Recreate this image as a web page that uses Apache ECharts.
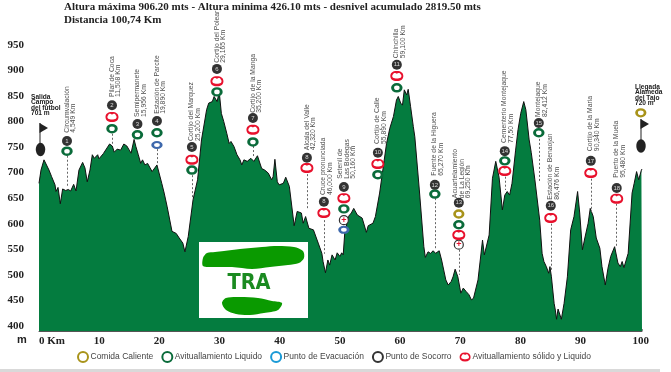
<!DOCTYPE html>
<html><head><meta charset="utf-8">
<style>html,body{margin:0;padding:0;background:#fff}#c{width:671px;height:372px}</style>
<script src="https://cdn.jsdelivr.net/npm/echarts@6/dist/echarts.min.js"></script>
</head><body><div id="c"></div>
<script>
const profileKm=[0,.33,.83,1.16,1.66,2.1,2.66,2.82,3.16,3.54,3.93,4.43,4.87,5.26,5.76,6.15,6.64,7.25,7.64,8.02,8.47,8.86,9.19,9.75,9.97,10.68,11.73,12.18,12.5,13,13.56,14.1,14.6,15,15.3,15.8,16.1,16.5,16.9,17.2,17.6,18.05,18.8,19.6,19.9,20.4,20.8,21.3,22.1,22.8,23.3,23.9,24.25,24.8,25.6,26.35,27,27.85,28.2,28.8,29.1,29.6,29.95,30.3,30.7,31.2,31.6,31.9,32.4,32.9,33.4,33.7,34.05,34.6,35.2,35.7,36.3,37,37.5,38.1,38.65,38.9,39.2,39.6,39.9,40.6,41,41.6,42.4,42.9,43.6,43.9,44.3,44.85,45.6,46.4,47,47.2,47.6,48,48.3,48.7,49.2,49.55,50,50.3,50.55,50.8,51.4,51.9,52.3,52.9,53.7,54.4,54.7,55.5,55.9,56.6,57.75,58.3,58.9,59.4,59.7,60.1,60.4,60.7,61.1,61.35,61.75,62.2,62.45,63.2,63.95,64.2,64.65,65.05,65.5,65.9,66.5,66.9,67.6,68,68.5,68.8,69.15,69.6,70.1,70.5,71,71.45,71.85,72.2,72.95,73.7,74,74.8,75.35,75.9,76.45,77,77.4,77.8,78.2,78.6,79.2,79.6,80.05,80.55,80.9,81.45,81.8,82.4,83.2,83.6,83.9,84.3,84.7,84.9,85.15,85.6,85.8,86,86.25,86.5,86.8,87.25,87.8,88.35,88.9,89.5,89.85,90.3,90.7,91.25,91.6,92.1,92.6,93.2,93.55,94.1,94.55,95,95.65,96.2,96.6,96.9,97.2,97.9,98.55,98.9,99.3,99.65,100.1,100.2];
const profileAlt=[679,705,725,725,705,692,676,663,671,639,668,665,667,664,677,664,705,720,709,682,705,735,728,735,727,737,756,752,740,746,744,756,752,744,738,765,751,735,718,725,715,718,702,715,712,679,660,633,585,581,572,562,545,575,647,686,764,823,836,839,849,839,858,816,800,777,757,761,751,735,725,715,725,722,728,722,733,708,705,699,686,692,726,682,676,679,691,673,596,624,621,601,614,591,588,562,542,526,504,529,519,539,529,543,536,543,539,581,614,621,630,617,611,583,596,601,614,660,757,787,810,842,849,836,832,862,852,863,829,790,770,666,555,534,545,542,547,542,547,529,490,480,487,496,511,496,464,474,467,461,451,454,490,568,539,578,689,722,691,627,656,663,656,679,744,784,816,839,823,764,739,686,607,542,526,516,503,516,496,444,431,413,433,431,413,444,496,588,614,663,621,549,572,601,630,614,572,552,516,480,513,536,555,523,516,526,514,542,660,679,702,686,705,707];

const stationKm=[4.65,12.13,16.36,19.6,25.41,29.57,35.55,44.52,47.34,50.66,56.31,59.46,65.78,69.76,77.4,83.05,85.04,91.69,96.0];
const stationNum=["1","2","3","4","5","6","7","8","8","9","10","11","12","13","14","15","16","17","18"];
const stationAlt=[762,832,795,801,750,903,807,729,643,672,739,911,676,641,742,797,635,723,670];
const stationText=["Circumvalación\n4,549 Km","Pilar de Coca\n11,508 Km","Semipermanete\n15,956 Km","Estación de Parcite\n19,890 Km","Cortijo del Marquez\n25,200 Km","Cortijo del Polear\n29,165 Km","Cortijo de la Manga\n35,200 Km","Alcala del Valle\n42,320 Km","Cruce pronunciada\n46,000 Km","Setenil de\nLas Bodegas\n50,160 Km","Cortijo de Calle\n55,890 Km","Chinchilla\n59,100 Km","Fuente de la Higuera\n65,270 Km","Acuartelamiento\nde La Legión\n69,250 Km","Cementerio Montejaque\n77,50 Km","Montejaque\n82,412 Km","Estación de Benaojan\n86,476 Km","Cortijo de la Maria\n90,340 Km","Puerto de la Muela\n95,480 Km"];
const stationTextAlt=[778,848,809,815,762,915,817,744,656,688,756,924,694,650,758,809,647,742,690];

const solidKm=[12.13,25.41,29.57,35.55,44.52,47.34,50.66,56.31,59.46,69.76,77.4,85.04,91.69,96.0];
const solidAlt=[809,725,879,784,709,621,650,717,889,578,703,611,699,649];
const liquidKm=[4.65,12.13,16.36,19.6,25.41,29.57,35.55,50.66,56.31,59.46,65.78,69.76,77.4,83.05];
const liquidAlt=[742,786,774,778,705,858,760,629,696,866,658,598,723,778];
const evacKm=[19.6,50.66];
const evacAlt=[754,588];
const aidKm=[50.66,69.76];
const aidAlt=[607,559];
const foodKm=[69.76,100.0];
const foodAlt=[619,817];

const dashKm=[4.65,12.13,19.6,25.41,35.55,44.52,47.34,65.78,69.76,77.4,83.05,85.04,91.69,96.0];
const dashTop=[733,776,746,695,752,697,607,650,549,692,766,600,688,639];
const dashEnd=[674,756,715,650,729,627,541,549,500,666,680,510,623,553];

const yTicks=[400,450,500,550,600,650,700,750,800,850,900,950];
const legendNames=["Comida Caliente","Avituallamiento Liquido","Punto de Evacuación","Punto de Socorro","Avituallamiento sólido y Liquido"];
const titleText="Altura máxima 906.20 mts - Altura minima 426.10 mts - desnivel acumulado 2819.50 mts\nDistancia 100,74 Km";

const zip=(a,b)=>a.map((v,i)=>[v,b[i]]);
const red='#e8112d',green='#0a6b3a',blue='#3d68ac',yellow='#a8931a';
const redPath='path://M12 0C20 0 24 4 24 10C24 16 20 20 12 20C4 20 0 16 0 10C0 4 4 0 12 0ZM12 5.5C10 3 6 3.5 5 6.5C3 8.5 3 11.5 5 13.5C8 15.5 16 15.5 19 13.5C21 11.5 21 8.5 19 6.5C18 3.5 14 3 12 5.5Z';
const sans='"Liberation Sans",Arial,sans-serif',serif='"Liberation Serif",serif';
const ring=(name,km,alt,size,col,bw,extra)=>Object.assign({type:'scatter',name,data:zip(km,alt),symbol:'circle',symbolSize:size,z:6,
  itemStyle:{color:'#fff',borderColor:col,borderWidth:bw,opacity:1}},extra||{});
const txt=(x,y,t,f,c,w,lh)=>({type:'text',x,y,z:30,style:{text:t,font:(w||'bold')+' '+f+'px '+sans,fill:c||'#222',lineHeight:lh}});

const chart=echarts.init(document.getElementById('c'),null,{renderer:'canvas'});
chart.setOption({
 animation:false,backgroundColor:'#fff',
 title:{text:titleText,left:64,top:1,padding:0,textStyle:{fontFamily:serif,fontWeight:'bold',fontSize:11,lineHeight:13,color:'#222'}},
 grid:{left:39,right:29,top:4,bottom:41},
 xAxis:{type:'value',min:0,max:100.2,interval:10,splitLine:{show:false},
  axisLine:{show:true,onZero:false,lineStyle:{color:'#555',width:1}},axisTick:{length:2,inside:true,lineStyle:{color:'#888'}},
  axisLabel:{margin:5,alignMinLabel:'left',fontFamily:serif,fontWeight:'bold',fontSize:11,color:'#222',
   formatter:v=>v===0?'0 Km':(v%10===0?String(v):'')}},
 yAxis:{type:'value',min:390,max:1030,interval:10,splitLine:{show:false},axisLine:{show:false},axisTick:{show:false},
  axisLabel:{margin:15,fontFamily:serif,fontWeight:'bold',fontSize:11,color:'#222',formatter:v=>yTicks.includes(v)?String(v):''}},
 legend:{left:72,top:346,itemGap:8,itemWidth:11,itemHeight:10,selectedMode:false,
  textStyle:{fontFamily:sans,fontSize:8.5,color:'#444',padding:[0,0,0,-3]},
  data:[{name:legendNames[0]},{name:legendNames[1]},{name:legendNames[2],itemStyle:{borderColor:'#1a9ad6'}},{name:legendNames[3]},{name:legendNames[4]}]},
 series:[
  {type:'line',name:'perfil',data:zip(profileKm,profileAlt),showSymbol:false,symbol:'none',z:2,
   lineStyle:{color:'#111',width:1},areaStyle:{color:'#047c3f',opacity:1,origin:'start'},
   markLine:{silent:true,symbol:'none',label:{show:false},animation:false,
    lineStyle:{color:'#666',width:1,type:[2,2]},
    data:dashKm.map((k,i)=>[{coord:[k,dashTop[i]]},{coord:[k,dashEnd[i]]}])}},
  ring(legendNames[0],foodKm,foodAlt,[8.5,7],yellow,2.5),
  ring(legendNames[1],liquidKm,liquidAlt,[8.5,7],green,2.7),
  ring(legendNames[2],evacKm,evacAlt,[8.5,6],blue,2.4),
  ring(legendNames[3],aidKm,aidAlt,[9,9],'#333',1.2,{label:{show:true,formatter:'+',position:'inside',color:red,fontWeight:'bold',fontSize:9,fontFamily:sans}}),
  {type:'scatter',name:legendNames[4],data:zip(solidKm,solidAlt),symbol:redPath,symbolSize:[13,10],symbolKeepAspect:false,z:6,itemStyle:{color:red,opacity:1}},
  {type:'scatter',name:'numeros',data:zip(stationKm,stationAlt).map((d,i)=>({value:d,label:{formatter:stationNum[i]}})),symbol:'circle',symbolSize:10,z:7,
   itemStyle:{color:'#333',opacity:1},label:{show:true,position:'inside',color:'#ddd',fontSize:6,fontFamily:sans}},
  {type:'scatter',name:'rotulos',data:zip(stationKm,stationTextAlt).map((d,i)=>({value:d,label:{formatter:stationText[i]}})),symbol:'circle',symbolSize:0,z:8,clip:false,
   label:{show:true,position:'inside',rotate:90,align:'left',verticalAlign:'middle',offset:[0,3],fontFamily:sans,fontSize:6.8,lineHeight:6.6,color:'#222'}}
 ],
 graphic:[
  {type:'rect',z:20,shape:{x:199,y:242,width:109,height:76},style:{fill:'#fff'}},
  {type:'polygon',z:21,shape:{smooth:0.3,points:[[203,258],[207,253],[215,252],[224,251],[240,249],[262,247],[278,246],[294,247],[303,251],[304,258],[299,263],[288,265],[270,267],[252,269],[232,267],[212,267],[203,266]]},style:{fill:'#0a9a00'}},
  {type:'polygon',z:21,shape:{smooth:0.3,points:[[222,303],[226,298],[240,297],[258,298],[272,301],[282,303],[278,310],[264,313],[250,315],[236,314],[226,310]]},style:{fill:'#0a9a00'}},
  {type:'text',z:22,x:249,y:283,style:{text:'TRA',font:'bold 22px "DejaVu Sans"',fill:'#1a8a20',align:'center',verticalAlign:'middle'},scaleX:0.88},
  {type:'rect',z:20,shape:{x:0,y:369,width:660,height:3},style:{fill:'#d9d9d9'}},
  txt(17,334,'m',11,'#222','bold'),
  txt(31,94,'Salida\nCampo\ndel futbol\n701 m',6.6,'#222','bold',5.5),
  txt(635,84,'Llegada\nAlameda\ndel Tajo\n720 m',6.6,'#222','bold',5.5),
  {type:'ellipse',z:9,shape:{cx:40.5,cy:149.5,rx:4.7,ry:6.7},style:{fill:'#222'}},
  {type:'rect',z:9,shape:{x:39.5,y:123,width:1,height:22},style:{fill:'#222'}},
  {type:'polygon',z:9,shape:{points:[[39.5,123],[48,128],[39.5,133]]},style:{fill:'#222'}},
  {type:'ellipse',z:9,shape:{cx:641,cy:146,rx:4.7,ry:6.7},style:{fill:'#222'}},
  {type:'rect',z:9,shape:{x:640.5,y:119,width:1,height:22},style:{fill:'#222'}},
  {type:'polygon',z:9,shape:{points:[[640.5,119],[649,124],[640.5,129]]},style:{fill:'#222'}}
 ]
});
</script></body></html>
